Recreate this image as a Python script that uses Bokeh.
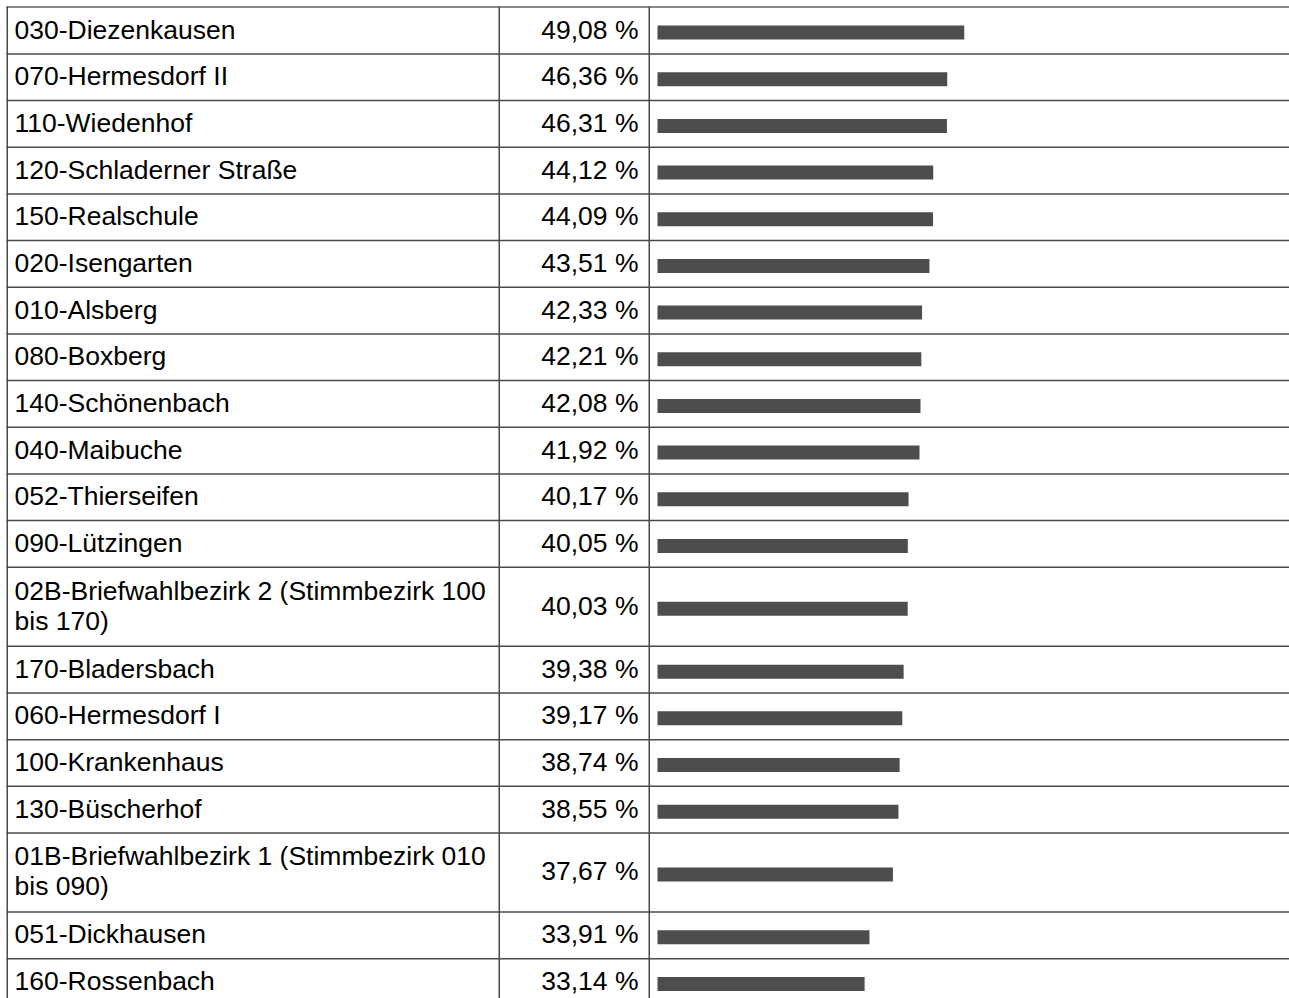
import textwrap
from bokeh.plotting import figure
from bokeh.models import Range1d, ColumnDataSource
from bokeh.core.properties import value
from bokeh.embed import file_html
from bokeh.resources import INLINE

labels = ["030-Diezenkausen", "070-Hermesdorf II", "110-Wiedenhof", "120-Schladerner Straße",
          "150-Realschule", "020-Isengarten", "010-Alsberg", "080-Boxberg", "140-Schönenbach",
          "040-Maibuche", "052-Thierseifen", "090-Lützingen",
          "02B-Briefwahlbezirk 2 (Stimmbezirk 100 bis 170)", "170-Bladersbach",
          "060-Hermesdorf I", "100-Krankenhaus", "130-Büscherhof",
          "01B-Briefwahlbezirk 1 (Stimmbezirk 010 bis 090)", "051-Dickhausen", "160-Rossenbach"]
values = [49.08, 46.36, 46.31, 44.12, 44.09, 43.51, 42.33, 42.21, 42.08, 41.92, 40.17, 40.05,
          40.03, 39.38, 39.17, 38.74, 38.55, 37.67, 33.91, 33.14]

W, H = 1289, 998
FONT = value("Liberation Sans")
LINE = "#4a4a4a"

# layout (screen pixels)
wrapped = ["\n".join(textwrap.wrap(l, 38)) for l in labels]
nlines = [w.count("\n") + 1 for w in wrapped]
tops, centers = [], []
y = 6.75
for n in nlines:
    h = 46.67 + 32.33 * (n - 1)
    tops.append(y)
    centers.append(y + h / 2)
    y += h

p = figure(width=W, height=H, output_backend="svg", toolbar_location=None,
           x_range=Range1d(0, W), y_range=Range1d(H, 0),
           x_axis_location=None, y_axis_location=None, min_border=0,
           background_fill_color="white", border_fill_color="white",
           outline_line_color=None)
p.grid.visible = False

# percent scale for bars: 0 % at x=657, 6.25 px per percent
ppu = 6.25
s = -657 / ppu
p.extra_x_ranges = {"pct": Range1d(s, s + W / ppu)}

# table lines
p.segment(x0=[6] * len(tops), x1=[W] * len(tops), y0=tops, y1=tops,
          line_color=LINE, line_width=1.5)
p.segment(x0=[6.75], x1=[W], y0=[6.5], y1=[6.5], line_color="#888888", line_width=2)
p.segment(x0=[6.75, 498.75, 648.75], x1=[6.75, 498.75, 648.75], y0=[6] * 3, y1=[H + 50] * 3,
          line_color=LINE, line_width=1.5)

src = ColumnDataSource(dict(
    label=wrapped,
    val=values,
    vtxt=[f"{v:.2f}".replace(".", ",") + " %" for v in values],
    yc=[c - 1 for c in centers],
    yb=[c + 2 for c in centers],
    zero=[0] * len(values),
))

p.hbar(y="yb", left="zero", right="val", height=14, source=src,
       x_range_name="pct", fill_color="#4d4d4d", line_color=None)

p.text(x=14, y="yc", text="label", source=src, text_font=FONT, text_font_size="26.5px",
       text_color="#000000", text_baseline="middle", text_align="left",
       text_line_height=1.0)
p.text(x=638, y="yc", text="vtxt", source=src, text_font=FONT, text_font_size="26.5px",
       text_color="#000000", text_baseline="middle", text_align="right")

open("out.html", "w").write(file_html(p, INLINE))
